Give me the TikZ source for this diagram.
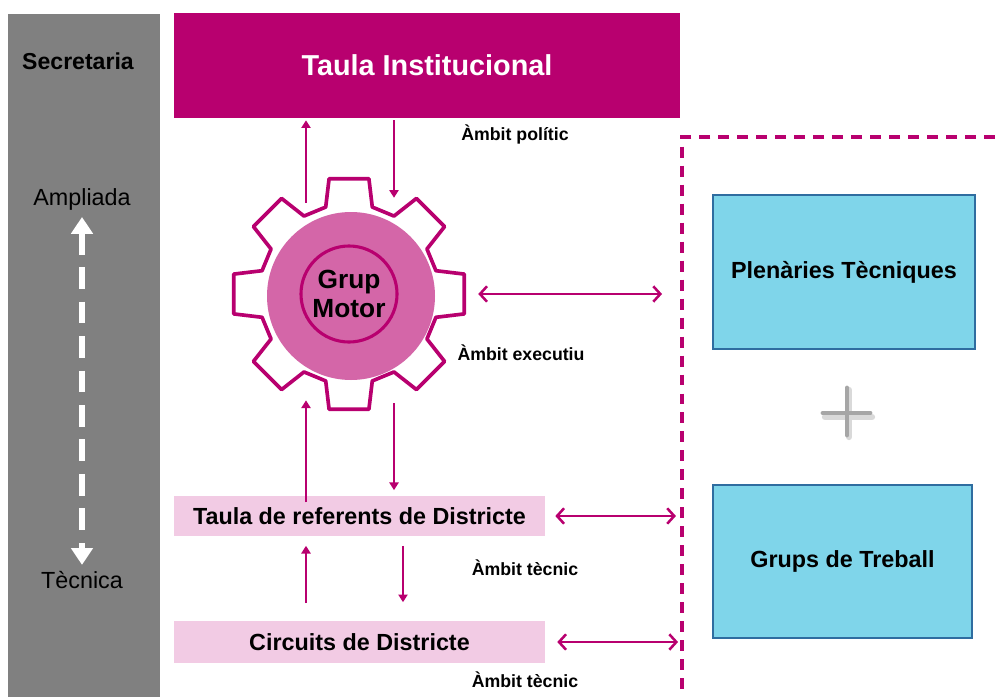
\documentclass[tikz,border=0pt]{standalone}
\usepackage{fontspec}
\setmainfont{Liberation Sans}
\usepackage{tikz}
\usetikzlibrary{arrows.meta,calc}

\definecolor{instcolor}{HTML}{B8006F}
\definecolor{gearpink}{HTML}{D466A8}
\definecolor{boxpink}{HTML}{F2CBE4}
\definecolor{techblue}{HTML}{7FD5EA}
\definecolor{techborder}{HTML}{2F6DA0}
\definecolor{bargray}{HTML}{808080}
\definecolor{plusgray}{HTML}{A6A6A6}

\tikzset{
  flow/.style={draw=instcolor, line width=1.7pt, -{Triangle[length=5.5pt,width=6.5pt]}},
  both/.style={draw=instcolor, line width=1.8pt,
    {Straight Barb[length=5pt,width=11pt]}-{Straight Barb[length=5pt,width=11pt]}},
  pinkbox/.style={fill=boxpink, minimum width=9.275cm, inner sep=0pt,
    font=\fontsize{16.6}{19}\selectfont\bfseries},
  techbox/.style={fill=techblue, draw=techborder, line width=0.8pt, inner sep=0pt,
    font=\fontsize{16.6}{19}\selectfont\bfseries},
  ambit/.style={font=\fontsize{12.6}{15}\selectfont\bfseries},
  sidetext/.style={font=\fontsize{16.6}{19}\selectfont},
}

\begin{document}
\begin{tikzpicture}[x=0.025cm, y=-0.025cm]
    \useasboundingbox (0,0) rectangle (995,697);

    % secretaria bar
    \fill[bargray] (8,14) rectangle (160,697);
    \node[sidetext, font=\fontsize{16.4}{19}\selectfont\bfseries] (secretaria) at (78,61) {Secretaria};
    \node[sidetext] (ampliada) at (82,199) {Ampliada};
    \node[sidetext] (tecnica) at (82,580) {Tècnica};
    \draw[white, line width=4.3pt, dash pattern=on 15.5pt off 9pt,
      {Triangle[length=12pt,width=15pt]}-{Triangle[length=12pt,width=15pt]},
      shorten <=1.5pt, shorten >=1pt] (ampliada) -- (tecnica);

    % institutional table
    \node[fill=instcolor, minimum width=12.65cm, minimum height=2.625cm, text=white,
      font=\fontsize{20.5}{24}\selectfont\bfseries] (taula) at (427,65.5) {Taula Institucional};
    \node[ambit] (politic) at (515,134) {Àmbit polític};

    % gear
    \node[circle, minimum size=5.85cm, inner sep=0pt] (gear) at (349,294) {};
    \draw[instcolor, line width=2.6pt, line join=round, fill=white, shift={(gear.center)}]
      (-15:90) \foreach \a in {0,45,...,315} {
        -- ({\a-15}:90) -- ({\a-9.8}:117) -- ({\a+9.8}:117) -- ({\a+15}:90)
      } -- cycle;
    \fill[gearpink] ($(gear.center)+(2,2)$) circle [radius=84];
    \node[circle, draw=instcolor, line width=2.2pt, minimum size=2.4cm, inner sep=0pt,
      align=center, font=\fontsize{18.7}{21}\selectfont\bfseries] (grup) at (gear.center) {Grup\\Motor};
    \node[ambit] (executiu) at (521,353) {Àmbit executiu};

    % district levels
    \node[pinkbox, minimum height=0.975cm] (referents) at (359.5,516) {Taula de referents de Districte};
    \node[ambit] (tecnic1) at (525,568) {Àmbit tècnic};
    \node[pinkbox, minimum height=1.025cm] (circuits) at (359.5,642) {Circuits de Districte};
    \node[ambit] (tecnic2) at (525,680) {Àmbit tècnic};

    % technical frame
    \coordinate (frame) at (682,137);
    \draw[instcolor, line width=2.5pt, dash pattern=on 7.8pt off 5.7pt] (995,137) -- (frame) -- (682,697);
    \node[techbox, minimum width=6.55cm, minimum height=3.85cm] (plenaries) at (844,272) {Plenàries Tècniques};
    \node[techbox, minimum width=6.475cm, minimum height=3.825cm] (grups) at (842.5,561.5) {Grups de Treball};
    \draw[white!85!black, line width=4.5pt, line cap=round] (825,417) -- (872,417) (849,390) -- (849,437);
    \draw[plusgray, line width=3.5pt, line cap=round] (823,413) -- (870,413) (847,388) -- (847,435);

    % vertical connectors
    \coordinate (left) at (306,0);
    \coordinate (right) at (394,0);
    \coordinate (right2) at (403,0);
    \draw[flow, shorten <=-18.5pt, shorten >=1.4pt] (gear.north -| left) -- (taula.south -| left);
    \draw[flow, shorten <=1.4pt, shorten >=-15pt] (taula.south -| right) -- (gear.north -| right);
    \draw[flow, shorten <=-4.3pt, shorten >=-7.8pt] (referents.north -| left) -- (gear.south -| left);
    \draw[flow, shorten <=-5.7pt, shorten >=4.3pt] (gear.south -| right) -- (referents.north -| right);
    \draw[flow, shorten <=12.8pt, shorten >=7.1pt] (circuits.north -| left) -- (referents.south -| left);
    \draw[flow, shorten <=7.1pt, shorten >=13.5pt] (referents.south -| right2) -- (circuits.north -| right2);

    % horizontal connectors
    \draw[both, shorten <=8.5pt, shorten >=14.2pt] (gear.east) -- (gear.east -| frame);
    \draw[both, shorten <=7.1pt, shorten >=4.3pt] (referents.east) -- (referents.east -| frame);
    \draw[both, shorten <=8.5pt, shorten >=2.8pt] (circuits.east) -- (circuits.east -| frame);
\end{tikzpicture}
\end{document}
